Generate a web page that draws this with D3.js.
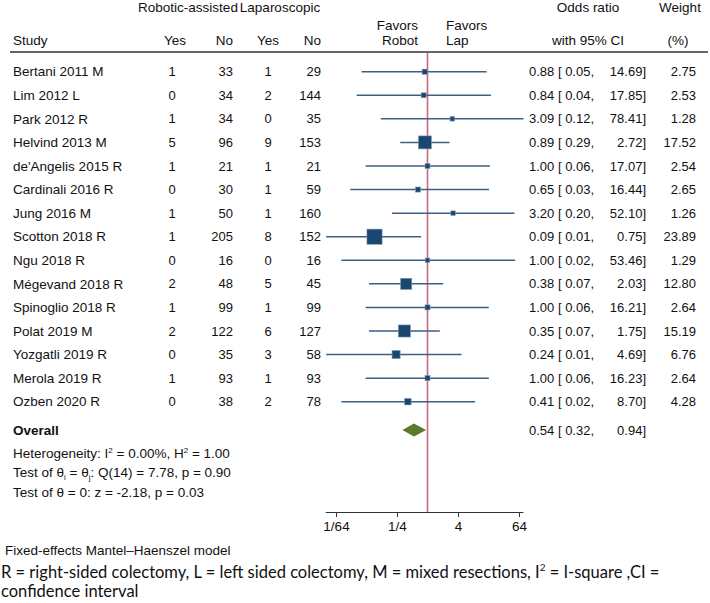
<!DOCTYPE html>
<html><head><meta charset="utf-8">
<script src="https://cdn.jsdelivr.net/npm/d3@7"></script>
<style>body{margin:0;background:#fff}svg{display:block}</style>
</head><body>
<script>
const studies = ["Bertani 2011 M","Lim 2012 L","Park 2012 R","Helvind 2013 M","de'Angelis 2015 R","Cardinali 2016 R","Jung 2016 M","Scotton 2018 R","Ngu 2018 R","Mégevand 2018 R","Spinoglio 2018 R","Polat 2019 M","Yozgatli 2019 R","Merola 2019 R","Ozben 2020 R"];
const robYes = [1,0,1,5,1,0,1,1,0,2,1,2,0,1,0];
const robNo  = [33,34,34,96,21,30,50,205,16,48,99,122,35,93,38];
const lapYes = [1,2,0,9,1,1,1,8,0,5,1,6,3,1,2];
const lapNo  = [29,144,35,153,21,59,160,152,16,45,99,127,58,93,78];
const orVal  = [0.88,0.84,3.09,0.89,1.00,0.65,3.20,0.09,1.00,0.38,1.00,0.35,0.24,1.00,0.41];
const ciLow  = [0.05,0.04,0.12,0.29,0.06,0.03,0.20,0.01,0.02,0.07,0.06,0.07,0.01,0.06,0.02];
const ciHigh = [14.69,17.85,78.41,2.72,17.07,16.44,52.10,0.75,53.46,2.03,16.21,1.75,4.69,16.23,8.70];
const weights= [2.75,2.53,1.28,17.52,2.54,2.65,1.26,23.89,1.29,12.80,2.64,15.19,6.76,2.64,4.28];
const overall = {or:0.54, lo:0.32, hi:0.94};
const tickVals = [1/64, 1/4, 4, 64];
const tickLabels = ["1/64","1/4","4","64"];

const W=710,H=603;
const svg=d3.select("body").append("svg").attr("width",W).attr("height",H)
  .style("font-family","'Liberation Sans',Arial,sans-serif");
const fs=13, fsL=13.5, col="#111";

const y = d3.scaleLinear().domain([0,14]).range([71.7,401.7]);
const x = d3.scaleLog().base(2).domain([1/64,64]).range([336,519]);

function txt(xp,yp,s,anchor,size,weight){
  return svg.append("text").attr("x",xp).attr("y",yp).attr("dy","0.35em")
    .attr("text-anchor",anchor||"start").attr("font-size",size||fs)
    .attr("font-weight",weight||"normal").attr("fill",col).text(s);
}

// header
txt(188,7,"Robotic-assisted","middle",fsL);
txt(280,7,"Laparoscopic","middle",fsL);
txt(588,7,"Odds ratio","middle",fsL);
txt(680,7,"Weight","middle",fsL);
txt(418,25,"Favors","end",fsL);
txt(418,40,"Robot","end",fsL);
txt(446,25,"Favors","start",fsL);
txt(446,40,"Lap","start",fsL);
txt(13,40,"Study","start",fsL);
txt(175,40,"Yes","middle",fsL);
txt(233,40,"No","end",fsL);
txt(268,40,"Yes","middle",fsL);
txt(321,40,"No","end",fsL);
txt(588,40,"with 95% CI","middle",fsL);
txt(678,40,"(%)","middle",fsL);
svg.append("line").attr("x1",10).attr("x2",708).attr("y1",52).attr("y2",52)
  .attr("stroke","#666").attr("stroke-width",2);

// red null line
const axisY = 512;
svg.append("line").attr("x1",x(1)).attr("x2",x(1)).attr("y1",53).attr("y2",axisY)
  .attr("stroke","#c8687a").attr("stroke-width",1.6);

// rows
studies.forEach((s,i)=>{
  const yy=y(i);
  txt(13,yy,s,"start",fsL);
  txt(172,yy,robYes[i],"middle");
  txt(233,yy,robNo[i],"end");
  txt(268,yy,lapYes[i],"middle");
  txt(321,yy,lapNo[i],"end");
  txt(529,yy,orVal[i].toFixed(2)+" [ "+ciLow[i].toFixed(2)+",");
  txt(646,yy,ciHigh[i].toFixed(2)+"]","end");
  txt(696,yy,weights[i].toFixed(2),"end");
});

const g=svg.append("g");
g.selectAll("line.ci").data(studies).join("line").attr("class","ci")
  .attr("x1",(d,i)=>x(ciLow[i])).attr("x2",(d,i)=>x(ciHigh[i]))
  .attr("y1",(d,i)=>y(i)).attr("y2",(d,i)=>y(i))
  .attr("stroke","#3c5f84").attr("stroke-width",1.5);
g.selectAll("rect.box").data(studies).join("rect").attr("class","box")
  .each(function(d,i){
    const s=Math.max(4.5,3.1*Math.sqrt(weights[i]));
    d3.select(this).attr("x",x(orVal[i])-s/2).attr("y",y(i)-s/2).attr("width",s).attr("height",s);
  })
  .attr("fill","#1a476f").attr("stroke","#7f97b0").attr("stroke-width",0.6);

// overall
const yO=430;
txt(13,yO,"Overall","start",fsL,"bold");
svg.append("path").attr("d",`M${x(overall.lo)},${yO} L${x(overall.or)},${yO-6.5} L${x(overall.hi)},${yO} L${x(overall.or)},${yO+6.5} Z`)
  .attr("fill","#5a7a2c");
txt(529,yO,overall.or.toFixed(2)+" [ "+overall.lo.toFixed(2)+",");
txt(646,yO,overall.hi.toFixed(2)+"]","end");

// stats
const t1=txt(13,453,"Heterogeneity: I","start",fsL);
t1.append("tspan").attr("font-size",8).attr("dy","-5px").text("2");
t1.append("tspan").attr("dy","5px").text(" = 0.00%, H");
t1.append("tspan").attr("font-size",8).attr("dy","-5px").text("2");
t1.append("tspan").attr("dy","5px").text(" = 1.00");
const t2=txt(13,472.5,"Test of θ","start",fsL);
t2.append("tspan").attr("font-size",8).attr("dy","3px").text("i");
t2.append("tspan").attr("dy","-3px").text(" = θ");
t2.append("tspan").attr("font-size",8).attr("dy","3px").text("j");
t2.append("tspan").attr("dy","-3px").text(": Q(14) = 7.78, p = 0.90");
txt(13,492,"Test of θ = 0: z = -2.18, p = 0.03","start",fsL);

// axis
const axis=d3.axisBottom(x).tickValues(tickVals).tickFormat((d,i)=>tickLabels[i]).tickSize(5).tickSizeOuter(0).tickPadding(4);
const ag=svg.append("g").attr("transform",`translate(0,${axisY})`).call(axis);
ag.select(".domain").attr("d",`M${x(d3.min(ciLow))-0.5},0.5H${x(d3.max(ciHigh))}`).attr("stroke","#333");
ag.selectAll(".tick line").attr("stroke","#333");
ag.selectAll(".tick text").attr("font-size",fsL).attr("fill",col).attr("font-family","'Liberation Sans',Arial,sans-serif");

// footer
txt(5,550,"Fixed-effects Mantel–Haenszel model","start",13.5);
const f=svg.append("text").attr("x",1).attr("y",572).attr("dy","0.35em").attr("font-size",16.5)
  .attr("font-family","Lato,'Open Sans',sans-serif").attr("fill",col);
f.append("tspan").text("R = right-sided colectomy, L = left sided colectomy, M = mixed resections, I");
f.append("tspan").attr("font-size",10).attr("dy","-7px").text("2");
f.append("tspan").attr("dy","7px").text(" = I-square ,CI =");
svg.append("text").attr("x",1).attr("y",591).attr("dy","0.35em").attr("font-size",16.5)
  .attr("font-family","Lato,'Open Sans',sans-serif").attr("fill",col).text("confidence interval");
</script>
</body></html>
